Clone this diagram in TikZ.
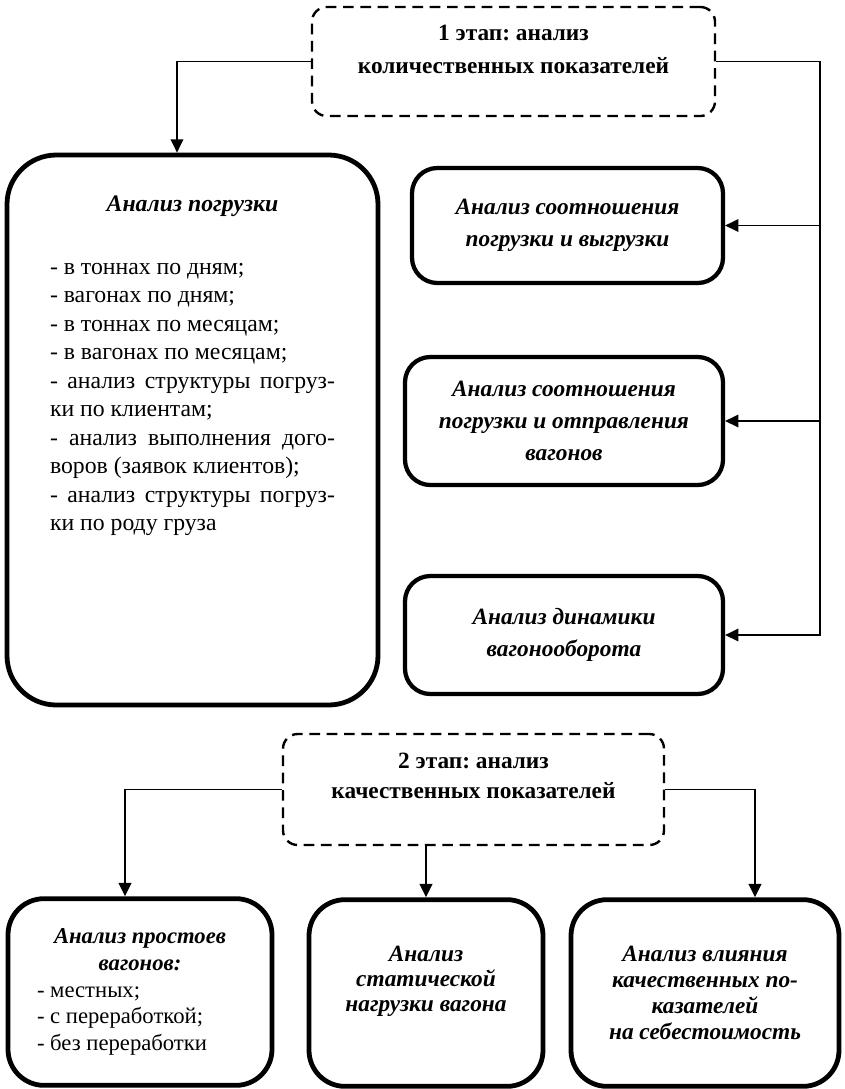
\documentclass[tikz,border=0pt]{standalone}
\usepackage{fontspec}
\setmainfont{Liberation Serif}
\frenchspacing
\usetikzlibrary{arrows.meta,calc}

\tikzset{
  stagebox/.style={draw, dash pattern=on 8pt off 5pt, line width=1.8pt, rounded corners=11pt,
    inner sep=0pt, font=\fontsize{17.5}{25}\selectfont\bfseries},
  bigbox/.style={draw, line width=3.6pt, rounded corners=37pt, inner sep=0pt,
    font=\fontsize{17.8}{21.4}\selectfont},
  ratiobox/.style={draw, line width=3.2pt, rounded corners=19pt, inner sep=0pt, align=center,
    font=\fontsize{17.5}{24}\selectfont\bfseries\itshape},
  resbox/.style={draw, line width=3.6pt, rounded corners=27pt, inner sep=0pt,
    minimum height=140pt, font=\fontsize{17}{20}\selectfont},
  link/.style={line width=1.3pt, -{Triangle[length=10pt,width=9.5pt]}}
}

\begin{document}
\begin{tikzpicture}[x=0.75pt,y=-0.75pt]
  \useasboundingbox (0,0) rectangle (844,1089);

  % stage 1
  \node[stagebox] (stage1) at (513.5,61.5)
    {\parbox[c][81.75pt][t]{302.25pt}{\centering\rule{0pt}{25pt}1 этап: анализ\\количественных показателей}};

  \node[bigbox] (load) at (192.5,430)
    {\parbox[c][412.5pt][t]{278.25pt}{\centering\rule{0pt}{42pt}\textbf{\textit{Анализ погрузки}}\\[25.85pt]
      \parbox[t]{213.75pt}{- в тоннах по дням;\\
        - вагонах по дням;\\
        - в тоннах по месяцам;\\
        - в вагонах по месяцам;\\
        -\hfill анализ\hfill структуры\hfill погруз-\\
        ки по клиентам;\\
        -\hfill анализ\hfill выполнения\hfill дого-\\
        воров (заявок клиентов);\\
        -\hfill анализ\hfill структуры\hfill погруз-\\
        ки по роду груза}}};

  \node[ratiobox, minimum width=233.25pt, minimum height=86.25pt] (ratio1) at (567.5,225.5)
    {Анализ соотношения\\погрузки и выгрузки};
  \node[ratiobox, minimum width=238.5pt, minimum height=96pt] (ratio2) at (564,421)
    {Анализ соотношения\\погрузки и отправления\\вагонов};
  \node[ratiobox, minimum width=238.5pt, minimum height=88.5pt] (ratio3) at (564,635)
    {Анализ динамики\\вагонооборота};

  \draw[link] (stage1.west) -| ($(load.north)+(-15.5,0)$);
  \draw[link] (stage1.east) -| ($(ratio3.east)+(95,0)$) -- (ratio3.east);
  \draw[link] ($(ratio1.east)+(95,0)$) -- (ratio1.east);
  \draw[link] ($(ratio2.east)+(95,0)$) -- (ratio2.east);

  % stage 2
  \node[stagebox] (stage2) at (473.5,789.5)
    {\parbox[c][83.25pt][t]{285.75pt}{\centering\rule{0pt}{25.5pt}2 этап: анализ\\[-2.5pt]качественных показателей}};

  \node[resbox, minimum width=198pt, text width=154.5pt, align=flush left] (simple) at (140,992)
    {{\centering\bfseries\itshape Анализ простоев\\вагонов:\par}- местных;\\- с переработкой;\\- без переработки};
  \node[resbox, minimum width=175.5pt, font=\fontsize{17.5}{18.5}\selectfont\bfseries\itshape] (static) at (426,993)
    {\parbox[c][138.75pt][t]{175.5pt}{\centering\rule{0pt}{46pt}Анализ\\статической\\нагрузки вагона}};
  \node[resbox, minimum width=201pt, align=center, font=\fontsize{17.5}{19.5}\selectfont\bfseries\itshape] (influence) at (705,993)
    {Анализ влияния\\качественных по-\\казателей\\на себестоимость};

  \draw[link] (stage2.west) -| ($(simple.north)+(-15,0)$);
  \draw[link] (stage2.south -| static.north) -- (static.north);
  \draw[link] (stage2.east) -| ($(influence.north)+(50,0)$);
\end{tikzpicture}
\end{document}
